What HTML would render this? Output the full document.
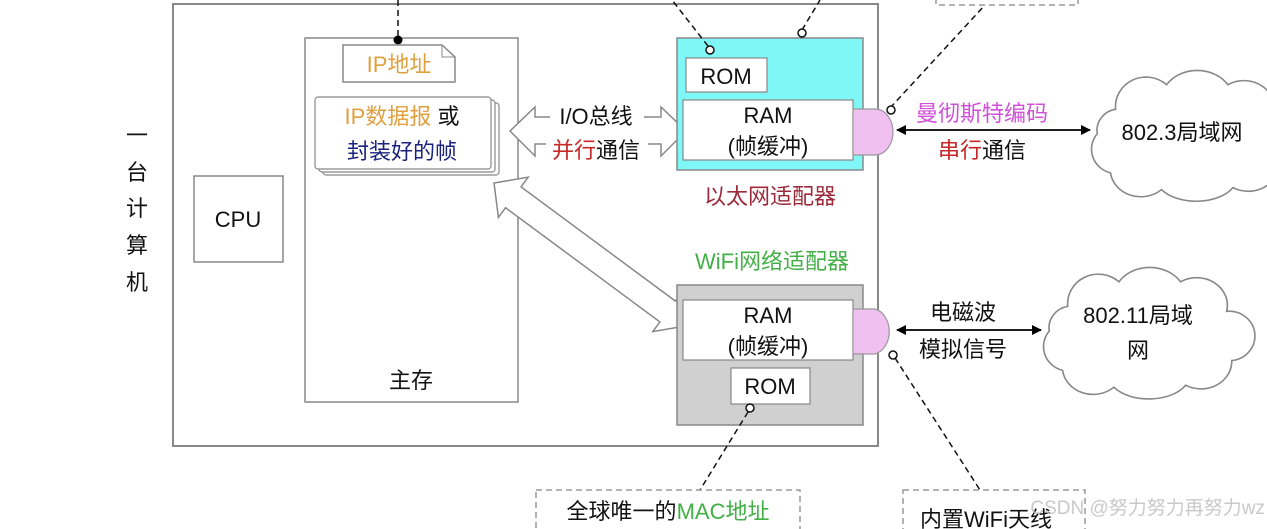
<!DOCTYPE html>
<html><head><meta charset="utf-8"><style>
html,body{margin:0;padding:0;background:#fff;}
svg{display:block;font-family:"Liberation Sans","Noto Sans CJK SC",sans-serif;}
</style></head><body>
<svg width="1267" height="529" viewBox="0 0 1267 529" xmlns="http://www.w3.org/2000/svg">
<defs>
<marker id="ah" markerWidth="10" markerHeight="10" refX="9" refY="5" orient="auto-start-reverse" markerUnits="userSpaceOnUse"><path d="M0,0 L10,5 L0,10 Z" fill="#000"/></marker>
<path id="cloud" d="M30,40 A30,30 0 0 1 80,15 A35,30 0 0 1 140,15 A30,28 0 0 1 185,45 A25,25 0 0 1 190,95 A30,28 0 0 1 145,120 A40,25 0 0 1 75,122 A30,28 0 0 1 25,105 A25,25 0 0 1 12,65 A22,22 0 0 1 30,40 Z"/>
</defs>
<rect x="173" y="4" width="705" height="442" fill="none" stroke="#888" stroke-width="2"/>
<g font-size="22" fill="#111" text-anchor="middle">
<text x="137" y="143">一</text><text x="137" y="180">台</text><text x="137" y="216">计</text><text x="137" y="253">算</text><text x="137" y="290">机</text>
</g>
<rect x="194" y="176" width="89" height="86" fill="#fff" stroke="#888" stroke-width="1.5"/>
<text x="238" y="227" font-size="22" text-anchor="middle" fill="#111">CPU</text>
<rect x="305" y="38" width="213" height="364" fill="#fff" stroke="#888" stroke-width="1.5"/>
<text x="411" y="388" font-size="22" text-anchor="middle" fill="#111">主存</text>
<line x1="398" y1="0" x2="398" y2="40" stroke="#111" stroke-width="1.5" stroke-dasharray="6,4"/>
<circle cx="398" cy="40" r="4.5" fill="#000"/>
<path d="M343,45 L442,45 L455,57 L455,82 L343,82 Z" fill="#fff" stroke="#888" stroke-width="1.5"/>
<path d="M442,45 L442,57 L455,57" fill="none" stroke="#888" stroke-width="1"/>
<text x="399" y="72" font-size="22" text-anchor="middle" fill="#e0a040">IP地址</text>
<rect x="323" y="103" width="176" height="72" rx="3" fill="#fff" stroke="#888" stroke-width="1.2"/>
<rect x="319" y="100" width="176" height="72" rx="3" fill="#fff" stroke="#888" stroke-width="1.2"/>
<rect x="315" y="97" width="176" height="72" rx="3" fill="#fff" stroke="#888" stroke-width="1.2"/>
<text x="402" y="124" font-size="22" text-anchor="middle"><tspan fill="#e0a040">IP数据报</tspan><tspan fill="#111"> 或</tspan></text>
<text x="402" y="159" font-size="22" text-anchor="middle" fill="#1a237e">封装好的帧</text>
<path d="M510,131 L535,107 L535,117 L661,117 L661,107 L686,131 L661,156 L661,144 L535,144 L535,156 Z" fill="#fff" stroke="#888" stroke-width="1.5"/>
<rect x="550" y="106" width="94" height="24" fill="#fff"/>
<rect x="546" y="136" width="102" height="26" fill="#fff"/>
<text x="596" y="124" font-size="22" text-anchor="middle" fill="#111">I/O总线</text>
<text x="596" y="158" font-size="22" text-anchor="middle"><tspan fill="#c62828">并行</tspan><tspan fill="#111">通信</tspan></text>
<g transform="translate(494,183) rotate(36.5)">
<path d="M0,0 L24,-25 L24,-13 L216,-13 L216,-25 L240,0 L216,25 L216,13 L24,13 L24,25 Z" fill="#fff" stroke="#888" stroke-width="1.5"/>
</g>
<rect x="677" y="38" width="186" height="132" fill="#7ff7f7" stroke="#888" stroke-width="1.5"/>
<rect x="686" y="58" width="81" height="34" fill="#fff" stroke="#888" stroke-width="1.2"/>
<text x="726" y="84" font-size="22" text-anchor="middle" fill="#111">ROM</text>
<rect x="683" y="100" width="170" height="60" fill="#fff" stroke="#888" stroke-width="1.2"/>
<text x="768" y="123" font-size="22" text-anchor="middle" fill="#111">RAM</text>
<text x="768" y="154" font-size="22" text-anchor="middle" fill="#111">(帧缓冲)</text>
<path d="M853,109 L875,109 A18,23 0 0 1 875,155 L853,155 Z" fill="#f0c0f0" stroke="#999" stroke-width="1.2"/>
<text x="770" y="204" font-size="22" text-anchor="middle" fill="#9c2a3a">以太网适配器</text>
<line x1="708" y1="46" x2="672" y2="0" stroke="#111" stroke-width="1.5" stroke-dasharray="6,4"/>
<circle cx="710" cy="50" r="4" fill="#fff" stroke="#111" stroke-width="1.5"/>
<line x1="802" y1="30" x2="820" y2="0" stroke="#111" stroke-width="1.5" stroke-dasharray="6,4"/>
<circle cx="802" cy="33" r="4" fill="#fff" stroke="#111" stroke-width="1.5"/>
<line x1="890" y1="108" x2="985" y2="5" stroke="#111" stroke-width="1.5" stroke-dasharray="6,4"/>
<circle cx="891" cy="110" r="4" fill="#fff" stroke="#111" stroke-width="1.5"/>
<rect x="936" y="-10" width="142" height="15" fill="none" stroke="#999" stroke-width="1.5" stroke-dasharray="6,4"/>
<line x1="897" y1="130" x2="1090" y2="130" stroke="#000" stroke-width="1.8" marker-start="url(#ah)" marker-end="url(#ah)"/>
<text x="982" y="121" font-size="22" text-anchor="middle" fill="#d050d8">曼彻斯特编码</text>
<text x="982" y="158" font-size="22" text-anchor="middle"><tspan fill="#c62828">串行</tspan><tspan fill="#111">通信</tspan></text>
<use href="#cloud" transform="translate(1085,70) scale(1.02,0.98)" fill="#fff" stroke="#888" stroke-width="1.6" vector-effect="non-scaling-stroke"/>
<text x="1182" y="140" font-size="22" text-anchor="middle" fill="#111">802.3局域网</text>
<text x="772" y="269" font-size="22" text-anchor="middle" fill="#43b047">WiFi网络适配器</text>
<rect x="677" y="285" width="186" height="140" fill="#d0d0d0" stroke="#888" stroke-width="1.5"/>
<rect x="683" y="300" width="170" height="60" fill="#fff" stroke="#888" stroke-width="1.2"/>
<text x="768" y="323" font-size="22" text-anchor="middle" fill="#111">RAM</text>
<text x="768" y="354" font-size="22" text-anchor="middle" fill="#111">(帧缓冲)</text>
<rect x="731" y="368" width="79" height="36" fill="#fff" stroke="#888" stroke-width="1.2"/>
<text x="770" y="394" font-size="22" text-anchor="middle" fill="#111">ROM</text>
<path d="M853,309 L875,309 A18,23 0 0 1 875,354 L853,354 Z" fill="#f0c0f0" stroke="#999" stroke-width="1.2"/>
<line x1="748" y1="412" x2="700" y2="490" stroke="#111" stroke-width="1.5" stroke-dasharray="6,4"/>
<circle cx="750" cy="408" r="4" fill="#fff" stroke="#111" stroke-width="1.5"/>
<line x1="895" y1="358" x2="980" y2="490" stroke="#111" stroke-width="1.5" stroke-dasharray="6,4"/>
<circle cx="893" cy="355" r="4" fill="#fff" stroke="#111" stroke-width="1.5"/>
<line x1="897" y1="330" x2="1041" y2="330" stroke="#000" stroke-width="1.8" marker-start="url(#ah)" marker-end="url(#ah)"/>
<text x="963" y="320" font-size="22" text-anchor="middle" fill="#111">电磁波</text>
<text x="963" y="357" font-size="22" text-anchor="middle" fill="#111">模拟信号</text>
<use href="#cloud" transform="translate(1037,267) scale(1.025,0.985)" fill="#fff" stroke="#888" stroke-width="1.6" vector-effect="non-scaling-stroke"/>
<text x="1138" y="323" font-size="22" text-anchor="middle" fill="#111">802.11局域</text>
<text x="1138" y="358" font-size="22" text-anchor="middle" fill="#111">网</text>
<rect x="536" y="490" width="264" height="50" fill="#fff" stroke="#999" stroke-width="1.5" stroke-dasharray="6,4"/>
<text x="668" y="519" font-size="22" text-anchor="middle"><tspan fill="#111">全球唯一的</tspan><tspan fill="#43b047">MAC地址</tspan></text>
<rect x="903" y="490" width="182" height="50" fill="#fff" stroke="#999" stroke-width="1.5" stroke-dasharray="6,4"/>
<text x="920" y="527" font-size="22" fill="#111">内置WiFi天线</text>
<text x="1265" y="514" font-size="19" text-anchor="end" fill="#bbb" fill-opacity="0.8">CSDN @努力努力再努力wz</text>
</svg>
</body></html>
